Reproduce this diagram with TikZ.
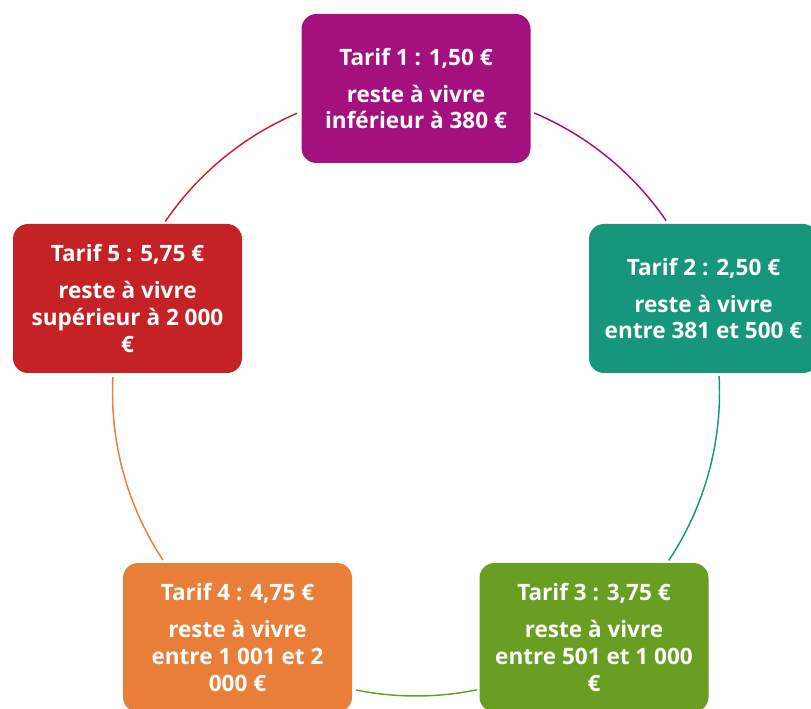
\documentclass[tikz,border=0pt]{standalone}
\usepackage{fontspec}
\setmainfont{Open Sans}
\definecolor{cpurple}{RGB}{165,16,127}
\definecolor{cteal}{RGB}{22,150,122}
\definecolor{cgreen}{RGB}{106,158,34}
\definecolor{corange}{RGB}{232,126,56}
\definecolor{cred}{RGB}{197,34,38}
\begin{document}
\begin{tikzpicture}[x=0.75pt,y=0.75pt,
  tarifbox/.style={rectangle, rounded corners=11.25pt, minimum width=171.75pt,
    minimum height=111.75pt, inner sep=0pt, align=center, text=white,
    font=\bfseries\fontsize{16.9}{20}\selectfont},
  ring/.style={line width=1.1pt}]
\useasboundingbox (0,0) rectangle (811,708);
\clip (0,0) rectangle (811,708);
\coordinate (c) at (416,315.5);
\def\R{227.625pt}
% arcs
\draw[ring, cpurple] (c) ++(67.1:\R) arc[start angle=67.1, end angle=34.5, radius=\R];
\draw[ring, cteal] (c) ++(3.1:\R) arc[start angle=3.1, end angle=-33.6, radius=\R];
\draw[ring, cgreen] (c) ++(-78.4:\R) arc[start angle=-78.4, end angle=-101.4, radius=\R];
\draw[ring, corange] (c) ++(213.5:\R) arc[start angle=213.5, end angle=177.1, radius=\R];
\draw[ring, cred] (c) ++(145.7:\R) arc[start angle=145.7, end angle=113.1, radius=\R];
% boxes
\node[tarifbox, fill=cpurple] (t1) at (416,619.5) {Tarif 1 : 1,50 €\\[7.6pt]reste à vivre\\inférieur à 380 €};
\node[tarifbox, fill=cteal] (t2) at (703.5,409.5) {Tarif 2 : 2,50 €\\[7.6pt]reste à vivre\\entre 381 et 500 €};
\node[tarifbox, fill=cgreen] (t3) at (594,70.5) {Tarif 3 : 3,75 €\\[7.6pt]reste à vivre\\entre 501 et 1 000\\€};
\node[tarifbox, fill=corange] (t4) at (237.5,70.5) {Tarif 4 : 4,75 €\\[7.6pt]reste à vivre\\entre 1 001 et 2\\000 €};
\node[tarifbox, fill=cred] (t5) at (127.5,409.5) {Tarif 5 : 5,75 €\\[7.6pt]reste à vivre\\supérieur à 2 000\\€};
\end{tikzpicture}
\end{document}
